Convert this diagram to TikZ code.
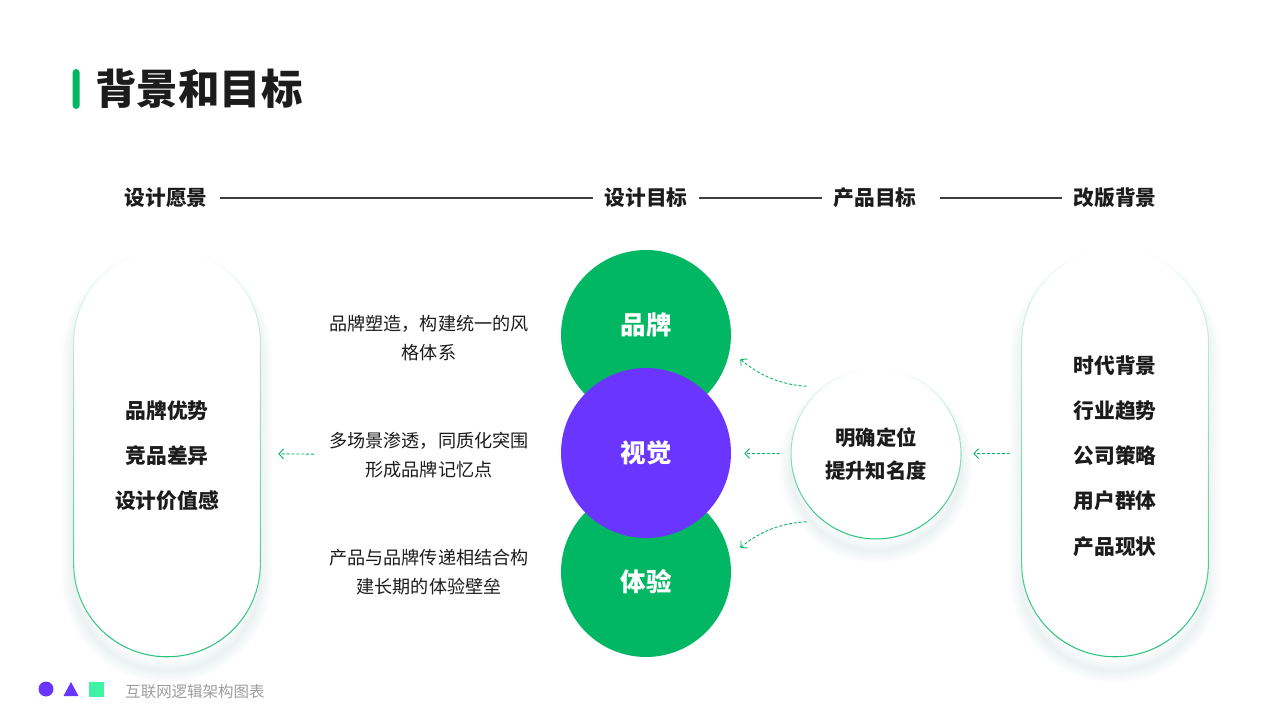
\documentclass[tikz,border=0pt]{standalone}
\usepackage{fontspec}
\setmainfont{Noto Sans CJK SC}
\usetikzlibrary{arrows.meta,positioning,fadings}
\definecolor{brandgreen}{HTML}{02B763}
\definecolor{vispurple}{HTML}{6A35FE}
\definecolor{mint}{HTML}{3FF2A5}
\definecolor{ink}{HTML}{1C1C1C}
\definecolor{hazecol}{HTML}{3E6E5A}
\pgfdeclarelayer{paper}
\pgfdeclarelayer{shade}
\pgfsetlayers{paper,shade,main}

\begin{document}
\begin{tikzpicture}[x=0.02cm,y=0.02cm,
  every node/.style={text=ink},
  hdr/.style={inner sep=0pt,font=\fontsize{11.8}{14}\selectfont\bfseries},
  pill/.style={rectangle,rounded corners=1.86cm,fill=white,minimum width=3.72cm,minimum height=8.14cm},
  pill text/.style={align=center,inner sep=0pt,yshift=-0.06cm,font=\fontsize{11.8}{25.6}\selectfont\bfseries},
  ball/.style={circle,minimum size=3.4cm,inner sep=0pt},
  ball label/.style={text=white,inner sep=0pt,font=\fontsize{14.5}{17}\selectfont\bfseries},
  note/.style={align=center,inner sep=0pt,font=\fontsize{10.3}{16.4}\selectfont},
  rim/.style={draw=brandgreen!85,line width=0.6pt,path fading=north},
  haze/.style={draw=hazecol,draw opacity=0.012},
  rule/.style={draw=ink!85,line width=0.6pt},
  flow/.style={draw=brandgreen,line width=0.5pt,dash pattern=on 1.7pt off 1.1pt,-{Straight Barb[length=2.6pt,width=5.6pt]}}
]
\begin{pgfonlayer}{paper}
  \fill[white] (0,0) rectangle (1280,720);
\end{pgfonlayer}
\useasboundingbox (0,0) rectangle (1280,720);

% title
\node[anchor=west,inner sep=0pt,font=\fontsize{23.6}{28}\selectfont\bfseries] (title) at (95,631) {背景和目标};
\node[fill=brandgreen,rounded corners=0.07cm,minimum width=0.14cm,minimum height=0.8cm,inner sep=0pt,left=0.3cm of title] (bar) {};

% header row
\node[hdr] (h1) at (166,522) {设计愿景};
\node[hdr] (h2) at (646,522) {设计目标};
\node[hdr] (h3) at (875,522) {产品目标};
\node[hdr] (h4) at (1115,522) {改版背景};
\draw[rule,shorten <=0.24cm,shorten >=0.22cm] (h1) -- (h2);
\draw[rule,shorten <=0.22cm,shorten >=0.22cm] (h2) -- (h3);
\draw[rule,shorten <=0.46cm,shorten >=0.22cm] (h3) -- (h4);

% side pills
\node[pill,label={[pill text]center:品牌优势\\竞品差异\\设计价值感}] (lp) at (167,267) {};
\node[pill,label={[pill text,font=\fontsize{11.8}{25.7}\selectfont\bfseries]center:时代背景\\行业趋势\\公司策略\\用户群体\\产品现状}] (rp) at (1115,267) {};
\draw[rim,rounded corners=1.86cm] (lp.south west) rectangle (lp.north east);
\draw[rim,rounded corners=1.86cm] (rp.south west) rectangle (rp.north east);

% goal circles
\node[ball,fill=brandgreen,label={[ball label,yshift=0.2cm]center:品牌}] (br) at (646,385) {};
\node[ball,fill=brandgreen,label={[ball label,yshift=-0.2cm]center:体验}] (ex) at (646,148) {};
\node[ball,fill=vispurple,label={[ball label]center:视觉}] (vis) at (646,267) {};

% product goal
\node[ball,fill=white,align=center,font=\fontsize{11.6}{18.7}\selectfont\bfseries] (rc) at (876,266) {明确定位\\提升知名度};
\draw[rim] (rc.center) circle (1.7cm);

% notes
\node[note] (t1) at (429,382) {品牌塑造，构建统一的风\\格体系};
\node[note] (t2) at (429,265) {多场景渗透，同质化突围\\形成品牌记忆点};
\node[note] (t3) at (429,148) {产品与品牌传递相结合构\\建长期的体验壁垒};

% soft shadows
\begin{pgfonlayer}{shade}
  \foreach \k in {1,...,6}{
    \draw[haze,line width=\k*0.08cm,rounded corners=1.86cm] ([yshift=-0.28cm]lp.south west) rectangle ([yshift=-0.28cm]lp.north east);
    \draw[haze,line width=\k*0.08cm,rounded corners=1.86cm] ([yshift=-0.28cm]rp.south west) rectangle ([yshift=-0.28cm]rp.north east);
    \draw[haze,line width=\k*0.08cm] ([yshift=-0.24cm]rc.center) circle (1.7cm);
  }
\end{pgfonlayer}

% connectors
\draw[flow,shorten <=0.3cm,shorten >=0.36cm] (t2) -- (lp);
\draw[flow,shorten <=0.22cm,shorten >=0.26cm] (rc) -- (vis);
\draw[flow,shorten <=0.24cm,shorten >=0.24cm] (rp) -- (rc);
\draw[flow,shorten <=0.34cm,shorten >=0.28cm] (rc.128) to[out=178,in=-42] (br.-10);
\draw[flow,shorten <=0.34cm,shorten >=0.28cm] (rc.-128) to[out=182,in=42] (ex.10);

% footer
\node[circle,fill=vispurple,minimum size=0.3cm,inner sep=0pt] (dot) at (46,31) {};
\node[fill=mint,minimum size=0.3cm,inner sep=0pt] (sq) at (96,31) {};
\fill[vispurple] (63.5,24) -- (78.5,24) -- (71,38) -- cycle;
\node[anchor=west,inner sep=0pt,text=black!38,font=\fontsize{8.8}{10}\selectfont] (foot) at (125,28) {互联网逻辑架构图表};
\end{tikzpicture}
\end{document}
